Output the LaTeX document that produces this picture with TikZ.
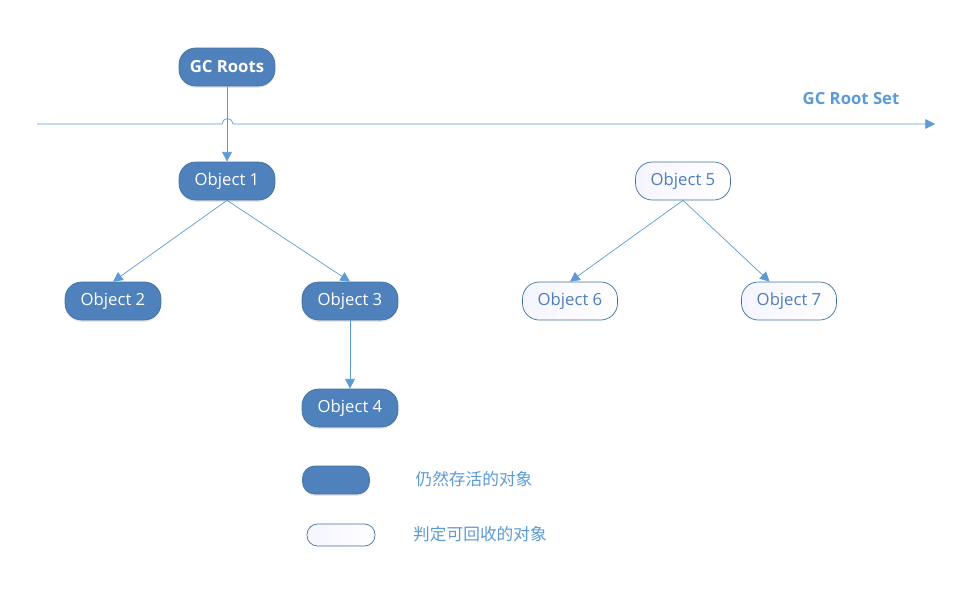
\documentclass[tikz,border=0pt]{standalone}
\usepackage{fontspec}
\setmainfont{Open Sans}
\newfontfamily\cjk{Noto Sans CJK SC}
\usetikzlibrary{arrows.meta,shadows}
\definecolor{livefill}{HTML}{4F81BD}
\definecolor{liveedge}{HTML}{41719C}
\definecolor{wire}{HTML}{5B9BD5}
\definecolor{deadtext}{HTML}{4F7FBA}
\tikzset{
	live/.style={rounded corners=9.5pt,minimum width=1.92cm,minimum height=0.76cm,fill=livefill,draw=liveedge,
		text=white,font=\fontsize{9.5}{10}\selectfont,drop shadow={opacity=0.18,shadow xshift=0pt,shadow yshift=-1pt}},
	dead/.style={rounded corners=9.5pt,minimum width=1.9cm,minimum height=0.76cm,left color=blue!4,right color=white,
		draw=liveedge,text=deadtext,font=\fontsize{9.5}{10}\selectfont},
	link/.style={wire,thin,-{Triangle[length=5.5pt,width=5.5pt]}}
}
\begin{document}
\begin{tikzpicture}[x=0.02cm,y=-0.02cm]
	\useasboundingbox (0,0) rectangle (959,589);
	% ROOT SET LINE
	\coordinate (setL) at (37,124);
	\coordinate (setR) at (935,124);
	\draw[link] (setL) -- (222,124) arc[start angle=180,end angle=360,radius=5.5] -- (setR);
	\node[wire,font=\fontsize{9.5}{10}\selectfont\bfseries] (setlabel) at (851,99) {GC Root Set};

	% REACHABLE OBJECTS
	\node[live,font=\fontsize{9.5}{10}\selectfont\bfseries] (roots) at (227,67) {GC Roots};
	\node[live] (o1) at (227,181) {Object 1};
	\node[live] (o2) at (113,301) {Object 2};
	\node[live] (o3) at (350,301) {Object 3};
	\node[live] (o4) at (350,408) {Object 4};

	% UNREACHABLE OBJECTS
	\node[dead] (o5) at (683,181) {Object 5};
	\node[dead] (o6) at (570,301) {Object 6};
	\node[dead] (o7) at (789,301) {Object 7};

	\foreach \a/\b in {roots/o1.north, o1/o2.north, o1/o3.north, o3/o4.north, o5/o6.north, o5/o7.135} {
		\draw[link] (\a.south) -- (\b);
	}

	% LEGEND
	\node[live,minimum width=1.34cm,minimum height=0.56cm,rounded corners=7pt] (keylive) at (336,480) {};
	\node[dead,minimum width=1.36cm,minimum height=0.44cm,rounded corners=6pt] (keydead) at (341,535) {};
	\node[wire,font=\cjk\fontsize{9.5}{10}\selectfont] (txtlive) at (474,479) {仍然存活的对象};
	\node[wire,font=\cjk\fontsize{9.5}{10}\selectfont] (txtdead) at (480,534) {判定可回收的对象};
\end{tikzpicture}
\end{document}
